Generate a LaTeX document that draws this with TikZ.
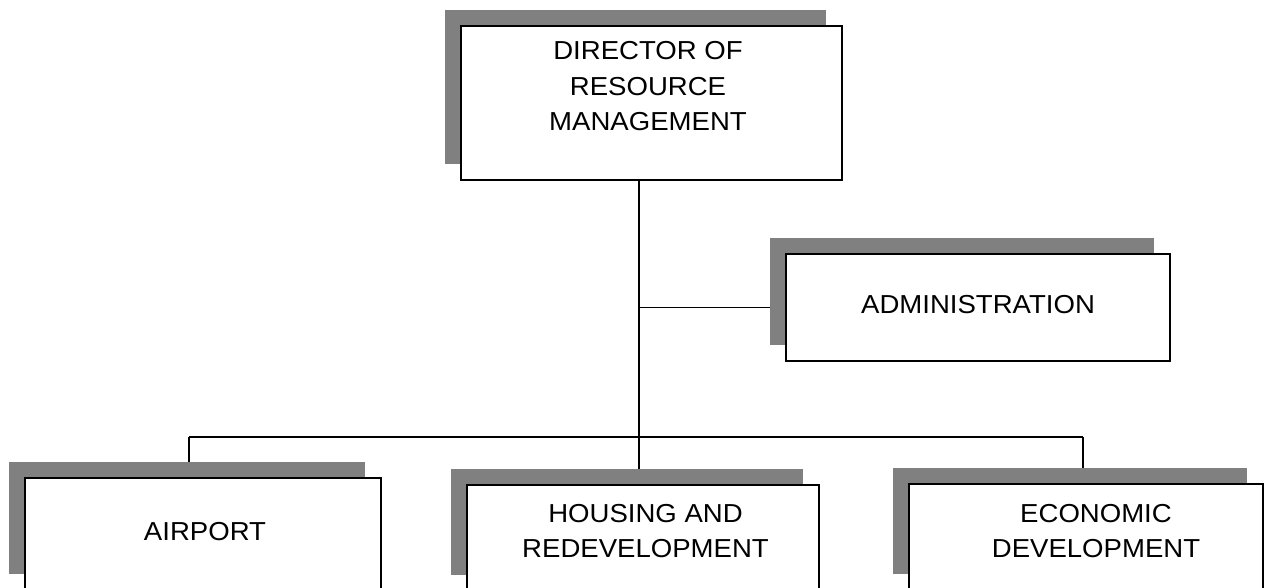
\documentclass[tikz,border=0pt]{standalone}
\usepackage{fontspec}
\setmainfont[FakeStretch=1.06]{Liberation Sans}
\usetikzlibrary{shadows,backgrounds}
\definecolor{shadowgray}{HTML}{808080}
\newcommand{\boxtxt}[5]{\parbox[c][#2][t]{#1}{\fontsize{26}{35.5}\selectfont\centering\leftskip=#4 plus 1fil\rightskip=0pt plus 1fil\rule{0pt}{#3}#5}}
\tikzset{
  orgbox/.style={draw=black, line width=1.5pt, fill=white, inner sep=0pt, outer sep=0pt, anchor=north west,
    drop shadow={shadow xshift=-16pt, shadow yshift=16pt, fill=shadowgray, opacity=1}},
  link/.style={draw=black, line width=1.3pt}
}
\begin{document}
\begin{tikzpicture}[x=1pt,y=-1pt]
\useasboundingbox (0,0) rectangle (1264,588);
\clip (0,0) rectangle (1264,588);
\node[orgbox] (dir) at (461,26) {\boxtxt{381pt}{154pt}{34pt}{-7pt}{DIRECTOR OF\\RESOURCE\\MANAGEMENT}};
\node[orgbox] (admin) at (786,254) {\boxtxt{384pt}{107pt}{59pt}{0pt}{ADMINISTRATION}};
\node[orgbox] (air) at (25,478) {\boxtxt{356pt}{112pt}{62pt}{4pt}{AIRPORT}};
\node[orgbox] (house) at (467,485) {\boxtxt{352pt}{106pt}{37pt}{5pt}{HOUSING AND\\REDEVELOPMENT}};
\node[orgbox] (econ) at (909,484) {\boxtxt{354pt}{106pt}{38pt}{20pt}{ECONOMIC\\DEVELOPMENT}};
\coordinate (trunk) at (639,437);
\coordinate (busL) at (189,437);
\coordinate (busR) at (1083,437);
\begin{pgfonlayer}{background}
\draw[link] (trunk |- dir.south) -- (trunk);
\draw[link] (admin.west -| trunk) -- (admin.west);
\draw[link] (busL) -- (busR);
\draw[link] (busL) -- (busL |- air.north);
\draw[link] (trunk) -- (trunk |- house.north);
\draw[link] (busR) -- (busR |- econ.north);
\end{pgfonlayer}
\end{tikzpicture}
\end{document}
